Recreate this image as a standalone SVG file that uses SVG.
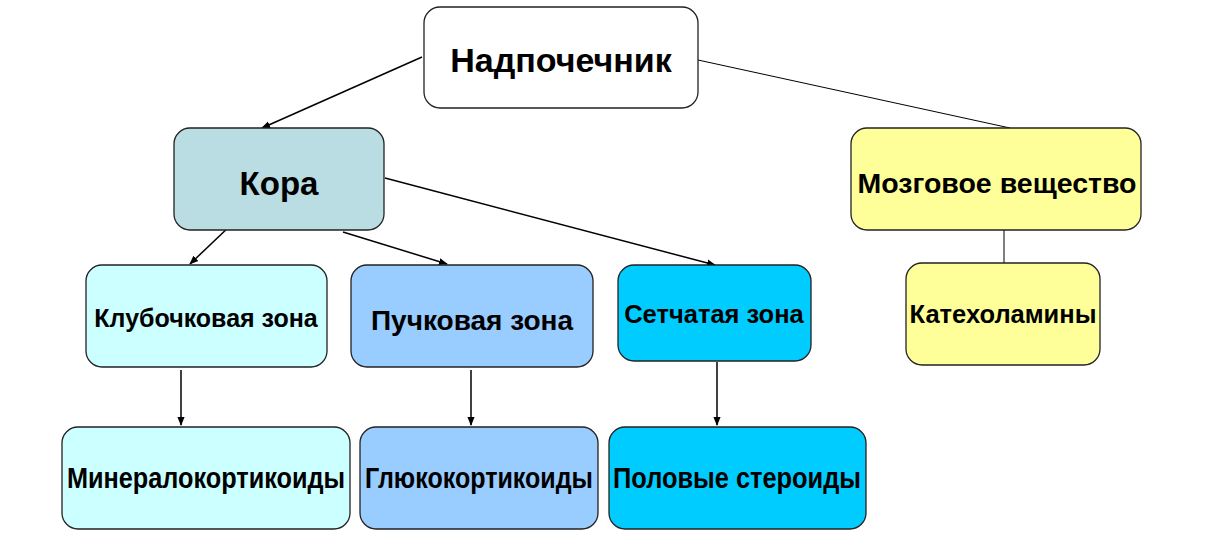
<svg xmlns="http://www.w3.org/2000/svg" width="1230" height="540" viewBox="0 0 1230 540">
<defs>
<marker id="arr" viewBox="0 0 10 10" refX="9" refY="5" markerWidth="9" markerHeight="9" markerUnits="userSpaceOnUse" orient="auto"><path d="M0,1 L10,5 L0,9 Z" fill="#000"/></marker>
<style>
rect{stroke:#222;stroke-width:1.3}
text{font-family:"Liberation Sans",Arial,sans-serif;font-weight:bold;fill:#000;text-anchor:middle;dominant-baseline:central}
.c line{stroke:#000;stroke-width:1.5}
.c .thin{stroke-width:1}
</style>
</defs>
<rect width="1230" height="540" fill="#fff" style="stroke:none"/>
<g class="c">
<line x1="422" y1="57" x2="262" y2="128" marker-end="url(#arr)"/>
<line class="thin" x1="698" y1="60" x2="1010" y2="128"/>
<line x1="231" y1="225" x2="190" y2="264" marker-end="url(#arr)"/>
<line x1="343" y1="232" x2="447" y2="264" marker-end="url(#arr)"/>
<line x1="385" y1="178" x2="715" y2="265" marker-end="url(#arr)"/>
<line class="thin" x1="1004" y1="230" x2="1004" y2="263"/>
<line x1="181" y1="370" x2="181" y2="425" marker-end="url(#arr)"/>
<line x1="471" y1="370" x2="471" y2="425" marker-end="url(#arr)"/>
<line x1="717" y1="362" x2="717" y2="425" marker-end="url(#arr)"/>
</g>
<g id="n-nadpochechnik"><rect x="424" y="7" width="274" height="101" rx="16" fill="#fff"/><text x="561" y="60" font-size="34">Надпочечник</text></g>
<g id="n-kora"><rect x="174" y="128" width="210" height="102" rx="16" fill="#b9dde2"/><text x="279" y="183" font-size="33">Кора</text></g>
<g id="n-mozg"><rect x="851" y="128" width="290" height="102" rx="16" fill="#ffff99"/><text x="997" y="183" font-size="28.5">Мозговое вещество</text></g>
<g id="n-klub"><rect x="86" y="265" width="241" height="102" rx="16" fill="#ccffff"/><text x="206" y="318" font-size="25">Клубочковая зона</text></g>
<g id="n-puch"><rect x="351" y="265" width="242" height="102" rx="16" fill="#99ccff"/><text x="472" y="320" font-size="28">Пучковая зона</text></g>
<g id="n-setch"><rect x="618" y="265" width="193" height="96" rx="16" fill="#00ccff"/><text x="714" y="314" font-size="25.5">Сетчатая зона</text></g>
<g id="n-kateh"><rect x="906" y="263" width="194" height="102" rx="16" fill="#ffff99"/><text x="1003" y="314" font-size="25.5">Катехоламины</text></g>
<g id="n-mineral"><rect x="62" y="427" width="288" height="102" rx="16" fill="#ccffff"/><text x="206" y="478" font-size="29" textLength="278" lengthAdjust="spacingAndGlyphs">Минералокортикоиды</text></g>
<g id="n-gluko"><rect x="360" y="427" width="238" height="102" rx="16" fill="#99ccff"/><text x="479" y="478" font-size="29" textLength="228" lengthAdjust="spacingAndGlyphs">Глюкокортикоиды</text></g>
<g id="n-polov"><rect x="609" y="427" width="257" height="102" rx="16" fill="#00ccff"/><text x="737" y="478" font-size="29" textLength="248" lengthAdjust="spacingAndGlyphs">Половые стероиды</text></g>
</svg>
